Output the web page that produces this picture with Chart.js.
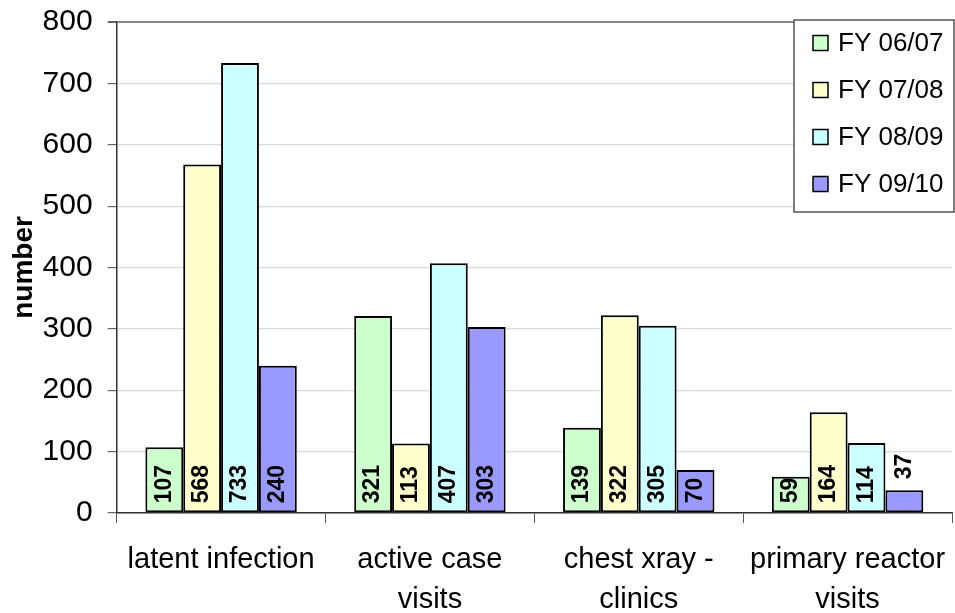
<!DOCTYPE html>
<html>
<head>
<meta charset="utf-8">
<script src="https://cdn.jsdelivr.net/npm/chart.js@4.4.1/dist/chart.umd.min.js"></script>
<style>
  html, body { margin: 0; padding: 0; background: #fff; }
  #wrap { width: 955px; height: 613px; }
</style>
</head>
<body>
<div id="wrap"><canvas id="chart" width="955" height="613"></canvas></div>
<script>
// ===== Data =====
const categories = [
  ['latent infection'],
  ['active case', 'visits'],
  ['chest xray -', 'clinics'],
  ['primary reactor', 'visits'],
];
const seriesNames = ['FY 06/07', 'FY 07/08', 'FY 08/09', 'FY 09/10'];
const fy0607 = [107, 321, 139, 59];
const fy0708 = [568, 113, 322, 164];
const fy0809 = [733, 407, 305, 114];
const fy0910 = [240, 303, 70, 37];
const seriesColors = ['#ccffcc', '#ffffcc', '#ccffff', '#9999ff'];
const yTicks = [0, 100, 200, 300, 400, 500, 600, 700, 800];

const FONT = '"Liberation Sans", Arial, sans-serif';

// ===== Plugins =====
const barLabels = {
  id: 'barLabels',
  afterDatasetsDraw(chart) {
    const { ctx } = chart;
    ctx.save();
    ctx.font = `bold 23px ${FONT}`;
    ctx.fillStyle = '#000';
    ctx.textBaseline = 'middle';
    chart.data.datasets.forEach((dataset, di) => {
      chart.getDatasetMeta(di).data.forEach((bar, i) => {
        const text = String(dataset.data[i]);
        const textWidth = ctx.measureText(text).width;
        const barHeight = bar.base - bar.y;
        ctx.save();
        ctx.translate(bar.x, 0);
        ctx.rotate(-Math.PI / 2);
        ctx.textAlign = 'left';
        if (barHeight > textWidth + 6) {
          ctx.fillText(text, -(bar.base - 9), 0);
        } else {
          ctx.fillText(text, -(bar.y - 11), 0);
        }
        ctx.restore();
      });
    });
    ctx.restore();
  },
};

const boxLegend = {
  id: 'boxLegend',
  afterDraw(chart) {
    const { ctx, chartArea } = chart;
    const left = chartArea.right - 158;
    const top = chartArea.top - 2;
    ctx.save();
    ctx.fillStyle = '#fff';
    ctx.fillRect(left, top, 160, 192);
    ctx.strokeStyle = '#555';
    ctx.lineWidth = 1.5;
    ctx.strokeRect(left, top, 160, 192);
    ctx.font = `26px ${FONT}`;
    ctx.textBaseline = 'middle';
    ctx.textAlign = 'left';
    seriesNames.forEach((name, i) => {
      const cy = top + 23 + i * 47;
      ctx.fillStyle = seriesColors[i];
      ctx.fillRect(left + 19, cy - 7.5, 15, 15);
      ctx.strokeStyle = '#000';
      ctx.lineWidth = 1.5;
      ctx.strokeRect(left + 19, cy - 7.5, 15, 15);
      ctx.fillStyle = '#000';
      ctx.fillText(name, left + 44, cy + 1);
    });
    ctx.restore();
  },
};

// ===== Chart =====
const seriesValues = [fy0607, fy0708, fy0809, fy0910];

new Chart(document.getElementById('chart'), {
  type: 'bar',
  data: {
    labels: categories,
    datasets: seriesNames.map((name, i) => ({
      label: name,
      data: seriesValues[i],
      backgroundColor: seriesColors[i],
      borderColor: '#000',
      borderWidth: 2,
      borderSkipped: false,
      categoryPercentage: 0.725,
      barPercentage: 1,
    })),
  },
  options: {
    responsive: false,
    animation: false,
    devicePixelRatio: 1,
    layout: { padding: { top: 22, right: 3, bottom: -24, left: 7 } },
    plugins: {
      legend: { display: false },
      tooltip: { enabled: false },
    },
    scales: {
      x: {
        afterFit(scale) {
          scale.paddingLeft = 0;
          scale.paddingRight = 0;
        },
        grid: {
          drawOnChartArea: false,
          drawTicks: true,
          tickLength: 10,
          tickColor: '#555',
          offset: true,
        },
        border: { color: '#333', width: 1.5 },
        ticks: {
          color: '#000',
          font: { family: FONT, size: 29, lineHeight: 1.38 },
          padding: 17,
          maxRotation: 0,
          autoSkip: false,
        },
      },
      y: {
        min: 0,
        max: 800,
        afterBuildTicks(axis) {
          axis.ticks = yTicks.map((value) => ({ value }));
        },
        afterFit(scale) {
          scale.width -= 13;
          scale.paddingTop = 0;
          scale.paddingBottom = 0;
        },
        grid: {
          color: (c) => (c.tick && c.tick.value === 800 ? '#888' : '#d9d9d9'),
          lineWidth: (c) => (c.tick && c.tick.value === 800 ? 2 : 1.2),
          tickColor: '#666',
          tickLength: 9,
        },
        border: { color: '#333', width: 1.5 },
        ticks: {
          color: '#000',
          font: { family: FONT, size: 30 },
          padding: 15,
        },
        title: {
          display: true,
          text: 'number',
          color: '#000',
          font: { family: FONT, size: 28, weight: 'bold' },
          padding: { top: 0, bottom: 0 },
        },
      },
    },
  },
  plugins: [barLabels, boxLegend],
});
</script>
</body>
</html>
